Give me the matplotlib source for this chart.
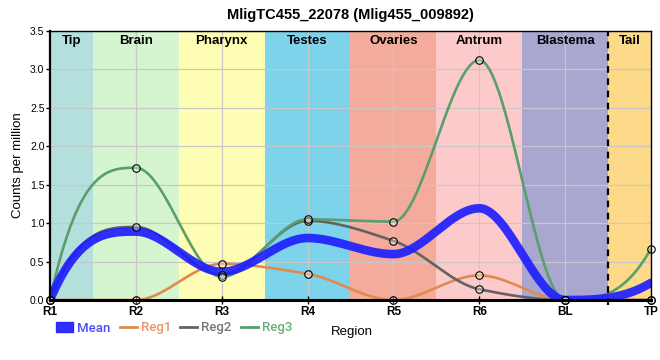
import numpy as np
import matplotlib
matplotlib.use("Agg")
import matplotlib.pyplot as plt
from matplotlib.patches import Patch
from matplotlib.lines import Line2D

plt.rcParams['font.family'] = ['Liberation Sans', 'DejaVu Sans']

title = "MligTC455_22078 (Mlig455_009892)"
positions = ["R1", "R2", "R3", "R4", "R5", "R6", "BL", "TP"]
reg1 = [0.0, 0.0, 0.47, 0.34, 0.0, 0.32, 0.0, 0.0]
reg2 = [0.0, 0.95, 0.33, 1.03, 0.77, 0.14, 0.0, 0.0]
reg3 = [0.0, 1.72, 0.30, 1.05, 1.02, 3.12, 0.0, 0.67]
mean = list(np.mean([reg1, reg2, reg3], axis=0))

regions = ["Tip", "Brain", "Pharynx", "Testes", "Ovaries", "Antrum", "Blastema", "Tail"]
region_bounds = [(0, 0.5), (0.5, 1.5), (1.5, 2.5), (2.5, 3.5), (3.5, 4.5), (4.5, 5.5), (5.5, 6.5), (6.5, 7)]
region_colors = ["#b3e0dd", "#d5f5cf", "#fdfdb3", "#7dd3ea", "#f4ab9c", "#fdcacb", "#a9a6cf", "#fdd98a"]


def monotone(y, n=60):
    y = np.asarray(y, float)
    x = np.arange(len(y), dtype=float)
    d = np.diff(y)
    m = np.zeros(len(y))
    for k in range(1, len(y) - 1):
        if d[k - 1] * d[k] > 0:
            m[k] = 2.0 / (1.0 / d[k - 1] + 1.0 / d[k])
    m[0] = 3 * d[0]
    m[-1] = 3 * d[-1]
    xs, ys = [], []
    for k in range(len(y) - 1):
        t = np.linspace(0, 1, n, endpoint=(k == len(y) - 2))
        h00 = 2 * t**3 - 3 * t**2 + 1
        h10 = t**3 - 2 * t**2 + t
        h01 = -2 * t**3 + 3 * t**2
        h11 = t**3 - t**2
        xs.append(x[k] + t)
        ys.append(h00 * y[k] + h10 * m[k] + h01 * y[k + 1] + h11 * m[k + 1])
    return np.concatenate(xs), np.concatenate(ys)


fig = plt.figure(figsize=(6.6, 3.6), dpi=100)
ax = fig.add_axes([50 / 660, 60 / 360, 601 / 660, 269 / 360])

for (a, b), c, name in zip(region_bounds, region_colors, regions):
    ax.axvspan(a, b, color=c, lw=0, zorder=0)
    ax.text((a + b) / 2, 0.962, name, transform=ax.get_xaxis_transform(),
            ha='center', va='center', fontsize=9.5, fontweight='bold', zorder=5)

ax.set_xlim(0, 7)
ax.set_ylim(0, 3.5)
ax.set_xticks(range(len(positions)))
ax.set_xticklabels(positions, fontweight='bold', fontsize=8.5)
ax.set_yticks(np.arange(0, 3.51, 0.5))
ax.set_yticklabels([f"{v:.1f}" for v in np.arange(0, 3.51, 0.5)], fontsize=7.5)
ax.grid(True, color='#c8c8c8', lw=0.9, zorder=1)
ax.set_axisbelow(False)
for gl in ax.get_xgridlines() + ax.get_ygridlines():
    gl.set_zorder(1)

c1, c2, c3, cm = "#e08a4e", "#626262", "#5a9e6c", "#1f1fff"
for vals, c in [(reg1, c1), (reg2, c2), (reg3, c3)]:
    xs, ys = monotone(vals)
    ax.plot(xs, ys, color=c, lw=1.9, zorder=3, solid_capstyle='round')
xs, ys = monotone(mean)
ax.plot(xs, ys, color=cm, lw=6.2, alpha=0.92, zorder=4, solid_capstyle='round')
for vals in [reg1, reg2, reg3]:
    ax.plot(range(len(vals)), vals, ls='none', marker='o', ms=5.4,
            mfc=(1, 1, 1, 0.35), mec='black', mew=0.8, zorder=6, clip_on=False)

ax.plot([6.5, 6.5], [-0.07, 3.5], color='black', lw=1.6, ls=(0, (3, 2.5)),
        zorder=7, clip_on=False)

for s in ['top', 'right']:
    ax.spines[s].set_linewidth(1.0)
ax.spines['left'].set_linewidth(1.6)
ax.spines['bottom'].set_linewidth(2.2)
for s in ax.spines.values():
    s.set_zorder(8)
ax.tick_params(axis='x', direction='inout', length=6, width=1, pad=1.5)
ax.tick_params(axis='y', direction='out', length=3, width=1, pad=1)

ax.set_ylabel("Counts per million", fontsize=9.5)
ax.set_xlabel("Region", fontsize=9.5)
ax.xaxis.set_label_coords((352 - 50) / 601, -0.095)
ax.set_title(title, fontsize=10.5, fontweight='bold', pad=9)

handles = [Patch(color=cm, alpha=0.92),
           Line2D([], [], color=c1, lw=2),
           Line2D([], [], color=c2, lw=2),
           Line2D([], [], color=c3, lw=2)]
leg = fig.legend(handles, ["Mean", "Reg1", "Reg2", "Reg3"], ncol=4, frameon=False,
                 loc='center left', bbox_to_anchor=(44 / 660, 1 - 328 / 360),
                 handlelength=1.3, handletextpad=0.3, columnspacing=0.7,
                 prop={'family': ['Roboto', 'DejaVu Sans'], 'size': 9.5},
                 labelcolor=["#4a4aff", "#e8956a", "#777777", "#6aae7a"])
for t in leg.get_texts():
    t.set_fontweight('medium')

fig.savefig("out.png", dpi=100)
